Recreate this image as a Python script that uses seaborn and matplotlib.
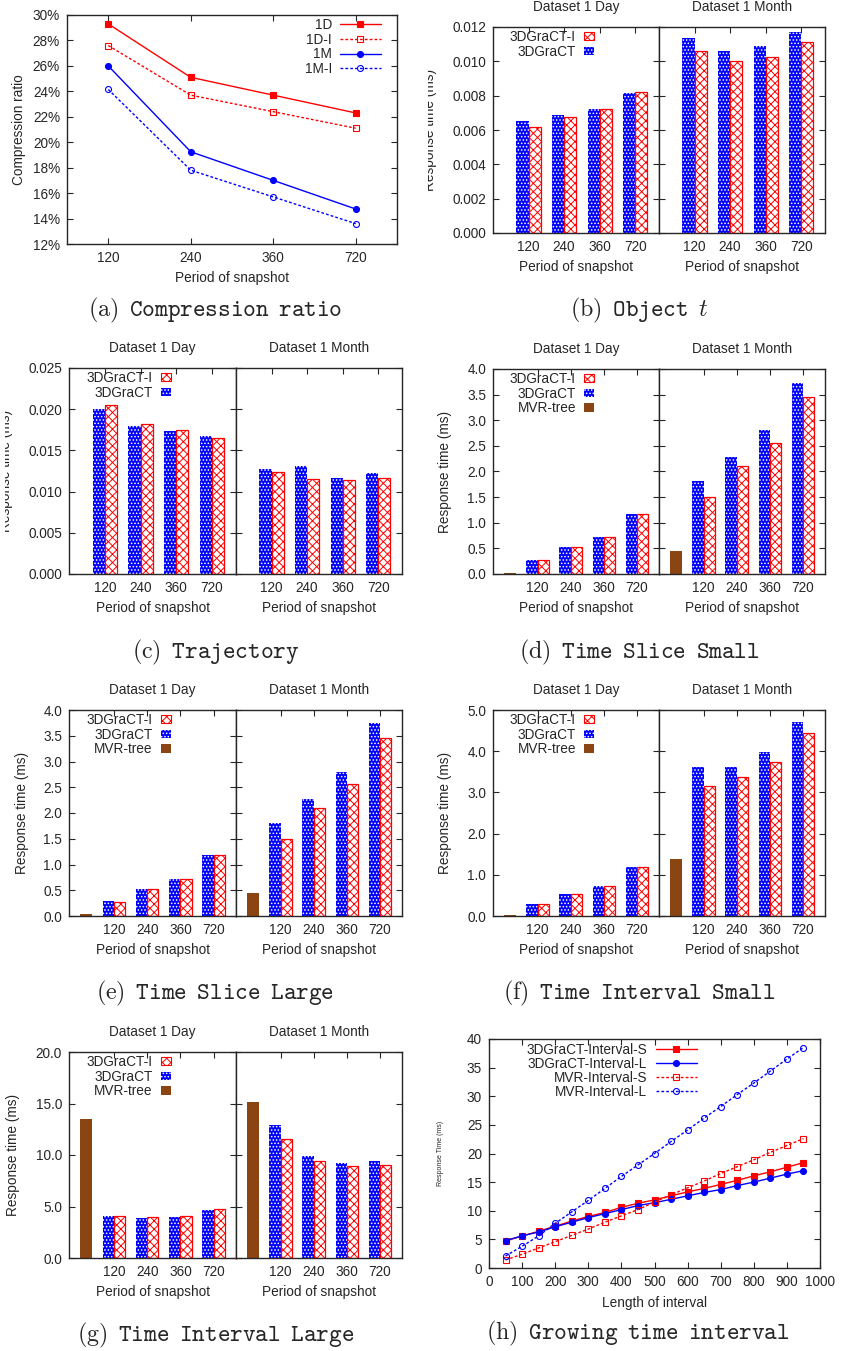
import numpy as np
import pandas as pd
import matplotlib
matplotlib.use("Agg")
import matplotlib.pyplot as plt
import seaborn as sns
from matplotlib.patches import Patch
from matplotlib.ticker import FuncFormatter, MultipleLocator
from matplotlib.transforms import Bbox, TransformedBbox

W, H = 842, 1351

periods = ["120", "240", "360", "720"]
series_names = ["3DGraCT", "3DGraCT-I"]

# (a) compression ratio, percent
ratio_1d = [29.3, 25.1, 23.7, 22.3]
ratio_1d_i = [27.6, 23.7, 22.4, 21.1]
ratio_1m = [26.0, 19.25, 17.0, 14.75]
ratio_1m_i = [24.15, 17.8, 15.7, 13.6]

# (b) object t
obj_day_ct = [0.00655, 0.00685, 0.00723, 0.00814]
obj_day_cti = [0.00616, 0.00674, 0.00723, 0.00822]
obj_month_ct = [0.01136, 0.01062, 0.01087, 0.01173]
obj_month_cti = [0.01058, 0.01001, 0.01025, 0.01112]

# (c) trajectory
traj_day_ct = [0.02006, 0.01796, 0.01739, 0.01671]
traj_day_cti = [0.02051, 0.01816, 0.01752, 0.01650]
traj_month_ct = [0.01278, 0.01315, 0.01169, 0.01226]
traj_month_cti = [0.01238, 0.01153, 0.01145, 0.01161]

# (d) time slice small
tss_day_ct = [0.28, 0.52, 0.72, 1.18]
tss_day_cti = [0.28, 0.52, 0.72, 1.18]
tss_month_ct = [1.81, 2.28, 2.80, 3.73]
tss_month_cti = [1.50, 2.10, 2.56, 3.45]
tss_mvr = [0.02, 0.45]

# (e) time slice large
tsl_day_ct = [0.29, 0.53, 0.71, 1.18]
tsl_day_cti = [0.28, 0.53, 0.71, 1.18]
tsl_month_ct = [1.80, 2.27, 2.79, 3.74]
tsl_month_cti = [1.49, 2.10, 2.56, 3.45]
tsl_mvr = [0.03, 0.45]

# (f) time interval small
tis_day_ct = [0.28, 0.53, 0.72, 1.18]
tis_day_cti = [0.28, 0.53, 0.72, 1.18]
tis_month_ct = [3.61, 3.62, 3.97, 4.71]
tis_month_cti = [3.15, 3.37, 3.73, 4.43]
tis_mvr = [0.03, 1.38]

# (g) time interval large
til_day_ct = [4.11, 3.92, 3.95, 4.66]
til_day_cti = [4.11, 4.01, 4.05, 4.79]
til_month_ct = [12.94, 9.94, 9.26, 9.42]
til_month_cti = [11.59, 9.45, 8.90, 9.06]
til_mvr = [13.46, 15.15]

# (h) growing time interval
interval_len = [50, 100, 150, 200, 250, 300, 350, 400, 450, 500,
                550, 600, 650, 700, 750, 800, 850, 900, 950]
ct_interval_s = [4.7, 5.6, 6.4, 7.3, 8.2, 9.0, 9.7, 10.6, 11.3, 11.9,
                 12.6, 13.3, 13.9, 14.6, 15.3, 16.1, 16.8, 17.6, 18.4]
ct_interval_l = [4.8, 5.6, 6.3, 7.2, 8.0, 8.8, 9.5, 10.2, 10.9, 11.4,
                 12.0, 12.6, 13.2, 13.7, 14.4, 15.0, 15.7, 16.4, 17.0]
mvr_interval_s = [1.4, 2.4, 3.5, 4.6, 5.7, 6.8, 8.0, 9.1, 10.2, 11.5,
                  12.8, 14.0, 15.2, 16.5, 17.7, 18.9, 20.2, 21.4, 22.6]
mvr_interval_l = [2.1, 3.8, 5.6, 7.8, 9.8, 11.8, 13.9, 16.0, 18.0, 20.0,
                  22.1, 24.1, 26.2, 28.2, 30.3, 32.3, 34.4, 36.5, 38.5]

RED = "#ff0000"
BLUE = "#0000ff"
BROWN = "#8b4513"
FS = 9.8
BLUE_HATCH = "....."
RED_HATCH = "xxxx"

sns.set_style("ticks")
plt.rcParams["font.family"] = ["Liberation Sans", "DejaVu Sans"]
plt.rcParams["mathtext.fontset"] = "cm"
plt.rcParams["hatch.linewidth"] = 0.7
plt.rcParams["axes.linewidth"] = 1.0

fig = plt.figure(figsize=(W / 100, H / 100), dpi=100)


def rect(l, t, r, b):
    return [l / W, 1 - b / H, (r - l) / W, (b - t) / H]


def fpos(x, y):
    return x / W, 1 - y / H


def style_ticks(ax):
    ax.tick_params(direction="in", length=4, width=0.8, labelsize=FS,
                   top=True, bottom=True, left=True, right=True, pad=5)
    for s in ax.spines.values():
        s.set_visible(True)
        s.set_linewidth(1.0)


def caption(x, y, text):
    fig.text(*fpos(x, y), text, ha="center", va="center", fontsize=17.3)


def bar_legend(ax, with_mvr, anchor_x, anchor_y):
    handles = [Patch(facecolor="white", edgecolor=RED, hatch=RED_HATCH, linewidth=0.8),
               Patch(facecolor=BLUE, edgecolor="white", hatch=BLUE_HATCH, linewidth=0)]
    labels = ["3DGraCT-I", "3DGraCT"]
    if with_mvr:
        handles.append(Patch(facecolor=BROWN, linewidth=0))
        labels.append("MVR-tree")
    ax.legend(handles, labels, loc="upper right", bbox_to_anchor=(anchor_x, anchor_y),
              frameon=False, markerfirst=False, fontsize=FS, handlelength=0.75,
              handleheight=0.55, handletextpad=0.6, labelspacing=0.05,
              borderpad=0, borderaxespad=0)


def bar_panel(l, t, mid, r, b, day, month, mvr, ylim, step, fmt, ylab_x, clip_x,
              cap_text, cap_y):
    ax1 = fig.add_axes(rect(l, t, mid, b))
    ax2 = fig.add_axes(rect(mid, t, r, b))
    xlo = -1.35 if mvr is not None else -1.0
    for i, (ax, (ct, cti), title) in enumerate(zip([ax1, ax2], [day, month],
                                                   ["Dataset 1 Day", "Dataset 1 Month"])):
        df = pd.DataFrame({"period": periods * 2,
                           "series": [series_names[0]] * len(periods) + [series_names[1]] * len(periods),
                           "value": list(ct) + list(cti)})
        sns.barplot(data=df, x="period", y="value", hue="series", hue_order=series_names,
                    order=periods, width=0.68, gap=0, saturation=1, errorbar=None,
                    legend=False, ax=ax)
        for cont, name in zip(ax.containers, series_names):
            for p in cont:
                if name == "3DGraCT":
                    p.set_facecolor(BLUE)
                    p.set_edgecolor("white")
                    p.set_hatch(BLUE_HATCH)
                    p.set_linewidth(0)
                else:
                    p.set_facecolor("white")
                    p.set_edgecolor(RED)
                    p.set_hatch(RED_HATCH)
                    p.set_linewidth(0.9)
        if mvr is not None:
            ax.bar([-0.84], [mvr[i]], width=0.37, color=BROWN, linewidth=0)
        ax.set_xlim(xlo, 3.67)
        ax.set_ylim(*ylim)
        ax.yaxis.set_major_locator(MultipleLocator(step))
        ax.yaxis.set_major_formatter(FuncFormatter(lambda v, _: fmt.format(v)))
        style_ticks(ax)
        ax.set_ylabel("")
        ax.set_xlabel("Period of snapshot", fontsize=FS)
        ax.xaxis.set_label_coords(0.5, -34 / (b - t))
        ax.xaxis.label.set_va("center")
        x0 = l if i == 0 else mid
        x1 = mid if i == 0 else r
        fig.text(*fpos((x0 + x1) / 2, t - 20), title, ha="center", va="center", fontsize=FS)
    ax2.tick_params(labelleft=False)
    ax1.set_ylabel("Response time (ms)", fontsize=FS)
    ax1.yaxis.set_label_coords(*fpos(ylab_x, (t + b) / 2), transform=fig.transFigure)
    ax1.yaxis.label.set_va("center")
    if clip_x is not None:
        cb = TransformedBbox(Bbox([[clip_x / W, 0], [1, 1]]), fig.transFigure)
        ax1.yaxis.label.set_clip_box(cb)
        ax1.yaxis.label.set_clip_on(True)
    bar_legend(ax1, mvr is not None, 0.61, 1 - 3 / (b - t))
    caption((l + r) / 2 - 20, cap_y, cap_text)
    return ax1, ax2


# (a) compression ratio
axa = fig.add_axes(rect(67, 15, 397, 244))
xpos = np.arange(len(periods))
line_specs = [
    ("1D", ratio_1d, RED, "s", "-", True),
    ("1D-I", ratio_1d_i, RED, "s", (0, (2, 1.5)), False),
    ("1M", ratio_1m, BLUE, "o", "-", True),
    ("1M-I", ratio_1m_i, BLUE, "o", (0, (2, 1.5)), False),
]
for name, vals, col, mk, ls, filled in line_specs:
    sns.lineplot(x=xpos, y=vals, ax=axa, color=col, marker=mk, linestyle=ls,
                 linewidth=1.0, markersize=5 if mk == "s" else 4.3,
                 markerfacecolor=col if filled else "none", markeredgecolor=col,
                 markeredgewidth=0.8, label=name)
axa.set_xlim(-0.5, 3.5)
axa.set_ylim(12, 30)
axa.set_xticks(xpos)
axa.set_xticklabels(periods)
axa.yaxis.set_major_locator(MultipleLocator(2))
axa.yaxis.set_major_formatter(FuncFormatter(lambda v, _: f"{v:.0f}%"))
style_ticks(axa)
axa.set_xlabel("Period of snapshot", fontsize=FS)
axa.xaxis.set_label_coords(0.5, -34 / 229)
axa.xaxis.label.set_va("center")
axa.set_ylabel("Compression ratio", fontsize=FS)
axa.yaxis.set_label_coords(*fpos(19, 130), transform=fig.transFigure)
axa.yaxis.label.set_va("center")
axa.legend(loc="upper right", bbox_to_anchor=(0.951, 1 - 3 / 229), frameon=False,
           markerfirst=False, fontsize=FS, handlelength=3.0, handletextpad=0.6,
           labelspacing=0.05, borderpad=0, borderaxespad=0)
caption(215, 310, r"$\mathrm{(a)}\enspace\mathtt{Compression\enspace ratio}$")

# (b) object t
bar_panel(493, 27, 659, 825, 233, (obj_day_ct, obj_day_cti), (obj_month_ct, obj_month_cti),
          None, (0, 0.012), 0.002, "{:.3f}", 430, 428,
          r"$\mathrm{(b)}\enspace\mathtt{Object}\enspace t$", 310)

# (c) trajectory
bar_panel(69, 368, 236, 402, 574, (traj_day_ct, traj_day_cti), (traj_month_ct, traj_month_cti),
          None, (0, 0.025), 0.005, "{:.3f}", 6, 5,
          r"$\mathrm{(c)}\enspace\mathtt{Trajectory}$", 652)

# (d) time slice small
bar_panel(493, 369, 659, 825, 574, (tss_day_ct, tss_day_cti), (tss_month_ct, tss_month_cti),
          tss_mvr, (0, 4.0), 0.5, "{:.1f}", 445, None,
          r"$\mathrm{(d)}\enspace\mathtt{Time\enspace Slice\enspace Small}$", 652)

# (e) time slice large
bar_panel(69, 710, 236, 402, 916, (tsl_day_ct, tsl_day_cti), (tsl_month_ct, tsl_month_cti),
          tsl_mvr, (0, 4.0), 0.5, "{:.1f}", 22, None,
          r"$\mathrm{(e)}\enspace\mathtt{Time\enspace Slice\enspace Large}$", 993)

# (f) time interval small
bar_panel(493, 710, 659, 825, 916, (tis_day_ct, tis_day_cti), (tis_month_ct, tis_month_cti),
          tis_mvr, (0, 5.0), 1.0, "{:.1f}", 445, None,
          r"$\mathrm{(f)}\enspace\mathtt{Time\enspace Interval\enspace Small}$", 993)

# (g) time interval large
bar_panel(69, 1052, 236, 402, 1258, (til_day_ct, til_day_cti), (til_month_ct, til_month_cti),
          til_mvr, (0, 20.0), 5.0, "{:.1f}", 13, None,
          r"$\mathrm{(g)}\enspace\mathtt{Time\enspace Interval\enspace Large}$", 1335)

# (h) growing time interval
axh = fig.add_axes(rect(489, 1039, 820, 1268))
h_specs = [
    ("3DGraCT-Interval-S", ct_interval_s, RED, "s", "-", True),
    ("3DGraCT-Interval-L", ct_interval_l, BLUE, "o", "-", True),
    ("MVR-Interval-S", mvr_interval_s, RED, "s", (0, (2, 1.5)), False),
    ("MVR-Interval-L", mvr_interval_l, BLUE, "o", (0, (2, 1.5)), False),
]
for name, vals, col, mk, ls, filled in h_specs:
    sns.lineplot(x=interval_len, y=vals, ax=axh, color=col, marker=mk, linestyle=ls,
                 linewidth=1.0, markersize=5 if mk == "s" else 4.3,
                 markerfacecolor=col if filled else "none", markeredgecolor=col,
                 markeredgewidth=0.8, label=name)
axh.set_xlim(0, 1000)
axh.set_ylim(0, 40)
axh.xaxis.set_major_locator(MultipleLocator(100))
axh.yaxis.set_major_locator(MultipleLocator(5))
style_ticks(axh)
axh.set_xlabel("Length of interval", fontsize=FS)
axh.xaxis.set_label_coords(0.5, -35 / 229)
axh.xaxis.label.set_va("center")
axh.set_ylabel("Response Time (ms)", fontsize=5)
axh.yaxis.set_label_coords(*fpos(441, 1153), transform=fig.transFigure)
axh.yaxis.label.set_va("center")
axh.legend(loc="upper right", bbox_to_anchor=(0.628, 1 - 4 / 229), frameon=False,
           markerfirst=False, fontsize=FS, handlelength=3.0, handletextpad=0.65,
           labelspacing=0.0, borderpad=0, borderaxespad=0)
caption(638, 1333, r"$\mathrm{(h)}\enspace\mathtt{Growing\enspace time\enspace interval}$")

fig.savefig("out.png", dpi=100)
